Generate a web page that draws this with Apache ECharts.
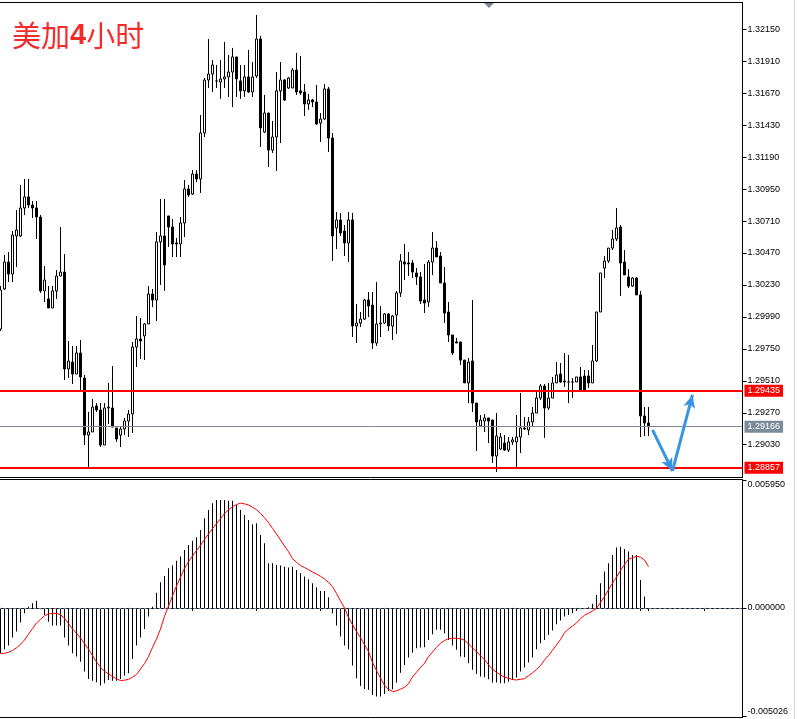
<!DOCTYPE html>
<html><head><meta charset="utf-8">
<script src="https://cdn.jsdelivr.net/npm/echarts@6/dist/echarts.min.js"></script>
<style>html,body{margin:0;padding:0;background:#fff;overflow:hidden}#c{width:797px;height:719px}</style>
</head><body><div id="c"></div>
<script>
// ---- DATA ----
const titleText = ['美加', '4', '小时'];
const opens = [1.29899,1.30200,1.30402,1.30312,1.30598,1.30598,1.30808,1.30891,1.30830,1.30808,
1.30740,1.30185,1.30125,1.30057,1.30185,1.30297,1.30327,1.29599,1.29651,1.29561,
1.29719,1.29531,1.29103,1.29126,1.29321,1.29291,1.29028,1.29306,1.29306,1.29156,
1.29103,1.29148,1.29208,1.29261,1.29764,1.29824,1.29847,1.29937,1.30162,1.30117,
1.30553,1.30598,1.30748,1.30665,1.30545,1.30538,1.30695,1.30951,1.30913,1.31063,
1.31026,1.31371,1.31769,1.31814,1.31762,1.31754,1.31777,1.31792,1.31829,1.31942,
1.31762,1.31687,1.31792,1.31679,1.31799,1.32077,1.31378,1.31521,1.31243,1.31341,
1.31687,1.31769,1.31709,1.31709,1.31844,1.31687,1.31679,1.31589,1.31619,1.31604,
1.31446,1.31476,1.31702,1.31333,1.30658,1.30718,1.30635,1.30545,1.30718,1.29922,
1.29944,1.29974,1.30117,1.30079,1.29794,1.29937,1.29944,1.30012,1.29922,1.30004,
1.30170,1.30402,1.30395,1.30395,1.30320,1.30290,1.30117,1.30102,1.30402,1.30507,
1.30447,1.30245,1.30027,1.29854,1.29802,1.29802,1.29666,1.29494,1.29659,1.29343,
1.29171,1.29208,1.29231,1.29216,1.28945,1.28998,1.29043,1.28990,1.29051,1.29051,
1.29088,1.29156,1.29141,1.29201,1.29268,1.29381,1.29471,1.29306,1.29381,1.29494,
1.29561,1.29509,1.29501,1.29501,1.29501,1.29539,1.29546,1.29546,1.29494,1.29659,
1.30027,1.30357,1.30410,1.30507,1.30575,1.30665,1.30402,1.30290,1.30222,1.30282,
1.30155,1.29246,1.29193];
const closes = [1.30192,1.30402,1.30312,1.30605,1.30643,1.30808,1.30891,1.30830,1.30808,1.30740,
1.30185,1.30267,1.30057,1.30185,1.30297,1.30327,1.29599,1.29659,1.29561,1.29719,
1.29539,1.29103,1.29126,1.29313,1.29291,1.29028,1.29306,1.29313,1.29163,1.29073,
1.29148,1.29208,1.29261,1.29764,1.29824,1.29809,1.29937,1.30162,1.30117,1.30553,
1.30598,1.30380,1.30665,1.30538,1.30538,1.30695,1.30951,1.30905,1.31063,1.31026,
1.31371,1.31769,1.31814,1.31882,1.31762,1.31777,1.31792,1.31829,1.31942,1.31777,
1.31687,1.31792,1.31679,1.31792,1.32077,1.31409,1.31521,1.31243,1.31341,1.31687,
1.31769,1.31619,1.31784,1.31844,1.31679,1.31672,1.31589,1.31619,1.31604,1.31439,
1.31476,1.31702,1.31333,1.30598,1.30718,1.30620,1.30545,1.30718,1.29922,1.29944,
1.29974,1.30117,1.30072,1.29794,1.29937,1.29944,1.30012,1.29922,1.29997,1.30170,
1.30410,1.30387,1.30387,1.30327,1.30290,1.30109,1.30094,1.30402,1.30507,1.30440,
1.30245,1.30019,1.29854,1.29719,1.29794,1.29666,1.29494,1.29651,1.29343,1.29201,
1.29216,1.29231,1.29208,1.28946,1.29096,1.29088,1.28990,1.29051,1.29066,1.29088,
1.29156,1.29148,1.29201,1.29268,1.29381,1.29471,1.29306,1.29381,1.29494,1.29554,
1.29501,1.29501,1.29501,1.29501,1.29539,1.29441,1.29441,1.29494,1.29659,1.30027,
1.30320,1.30410,1.30507,1.30575,1.30658,1.30395,1.30305,1.30222,1.30282,1.30155,
1.29246,1.29193,1.29166];
const lows = [1.29884,1.30192,1.30252,1.30252,1.30365,1.30590,1.30755,1.30808,1.30733,1.30575,
1.30170,1.30102,1.30057,1.30057,1.30125,1.30297,1.29516,1.29531,1.29486,1.29561,
1.29441,1.29028,1.28863,1.29126,1.29276,1.29013,1.29028,1.29186,1.29163,1.29051,
1.29013,1.29103,1.29088,1.29118,1.29614,1.29674,1.29666,1.29937,1.30064,1.29959,
1.30230,1.30185,1.30515,1.30440,1.30440,1.30440,1.30590,1.30891,1.30905,1.31003,
1.30921,1.31341,1.31709,1.31679,1.31709,1.31627,1.31709,1.31642,1.31566,1.31642,
1.31627,1.31642,1.31672,1.31642,1.31784,1.31266,1.31371,1.31116,1.31221,1.31086,
1.31296,1.31611,1.31702,1.31709,1.31657,1.31657,1.31499,1.31544,1.31566,1.31431,
1.31304,1.31469,1.31228,1.30410,1.30500,1.30598,1.30447,1.30402,1.29839,1.29794,
1.29914,1.29967,1.29989,1.29749,1.29772,1.29839,1.29937,1.29884,1.29817,1.29862,
1.30140,1.30267,1.30297,1.30282,1.30230,1.30087,1.30019,1.30064,1.30305,1.30440,
1.30245,1.29944,1.29802,1.29704,1.29794,1.29629,1.29494,1.29343,1.29276,1.28983,
1.29163,1.29126,1.29043,1.28893,1.28825,1.28990,1.28983,1.28975,1.29028,1.28848,
1.28968,1.29141,1.29103,1.29163,1.29268,1.29366,1.29081,1.29291,1.29381,1.29494,
1.29494,1.29464,1.29343,1.29381,1.29501,1.29441,1.29441,1.29456,1.29494,1.29651,
1.30027,1.30282,1.30395,1.30492,1.30560,1.30147,1.30305,1.30207,1.30215,1.30155,
1.29088,1.29096,1.29096];
const highs = [1.30222,1.30455,1.30477,1.30635,1.30793,1.30981,1.31026,1.31026,1.30860,1.30860,
1.30755,1.30372,1.30222,1.30222,1.30342,1.30665,1.30462,1.29809,1.29772,1.29772,
1.29817,1.29554,1.29276,1.29374,1.29343,1.29343,1.29343,1.29494,1.29621,1.29156,
1.29163,1.29231,1.29291,1.29802,1.29997,1.29982,1.29944,1.30222,1.30200,1.30628,
1.30876,1.30876,1.30748,1.30725,1.30583,1.30740,1.31018,1.30981,1.31093,1.31093,
1.31506,1.31784,1.32077,1.31919,1.31882,1.31919,1.32055,1.31957,1.32010,1.31942,
1.31882,1.31882,1.31995,1.31904,1.32257,1.32100,1.31657,1.31521,1.31461,1.31829,
1.31904,1.31777,1.31792,1.31859,1.31972,1.31949,1.31739,1.31664,1.31627,1.31732,
1.31521,1.31739,1.31717,1.31371,1.30778,1.30770,1.30680,1.30778,1.30770,1.30087,
1.30027,1.30125,1.30177,1.30177,1.30252,1.30072,1.30019,1.30019,1.30004,1.30185,
1.30462,1.30538,1.30477,1.30417,1.30357,1.30327,1.30387,1.30417,1.30628,1.30560,
1.30477,1.30365,1.30102,1.29854,1.29832,1.29802,1.29666,1.29681,1.30117,1.29343,
1.29253,1.29261,1.29231,1.29216,1.29268,1.29118,1.29103,1.29088,1.29088,1.29253,
1.29419,1.29238,1.29238,1.29313,1.29426,1.29486,1.29486,1.29494,1.29539,1.29651,
1.29644,1.29719,1.29704,1.29531,1.29539,1.29614,1.29591,1.29591,1.29779,1.30027,
1.30320,1.30447,1.30507,1.30643,1.30808,1.30680,1.30492,1.30350,1.30290,1.30290,
1.30185,1.29313,1.29313];
const macdHist = [-0.00211,-0.00192,-0.00175,-0.00138,-0.00110,-0.00068,-0.00025,0.00006,0.00022,0.00033,
-0.00006,-0.00033,-0.00064,-0.00082,-0.00082,-0.00082,-0.00138,-0.00175,-0.00211,-0.00226,
-0.00250,-0.00296,-0.00330,-0.00339,-0.00346,-0.00361,-0.00350,-0.00335,-0.00339,-0.00339,
-0.00330,-0.00315,-0.00304,-0.00237,-0.00175,-0.00138,-0.00098,-0.00040,0.00006,0.00071,
0.00119,0.00149,0.00184,0.00197,0.00219,0.00239,0.00270,0.00293,0.00313,0.00329,
0.00363,0.00417,0.00456,0.00487,0.00502,0.00502,0.00502,0.00498,0.00498,0.00479,
0.00456,0.00432,0.00409,0.00389,0.00394,0.00339,0.00301,0.00208,0.00208,0.00200,
0.00197,0.00192,0.00188,0.00192,0.00177,0.00161,0.00146,0.00133,0.00115,0.00096,
0.00079,0.00079,0.00050,-0.00025,-0.00082,-0.00133,-0.00175,-0.00192,-0.00268,-0.00327,
-0.00363,-0.00377,-0.00381,-0.00405,-0.00412,-0.00412,-0.00400,-0.00386,-0.00378,-0.00347,
-0.00301,-0.00265,-0.00231,-0.00208,-0.00188,-0.00184,-0.00183,-0.00149,-0.00122,-0.00102,
-0.00102,-0.00118,-0.00149,-0.00175,-0.00195,-0.00226,-0.00229,-0.00257,-0.00288,-0.00307,
-0.00319,-0.00322,-0.00332,-0.00347,-0.00347,-0.00350,-0.00350,-0.00343,-0.00335,-0.00324,
-0.00296,-0.00277,-0.00254,-0.00231,-0.00192,-0.00164,-0.00149,-0.00126,-0.00105,-0.00076,
-0.00059,-0.00040,-0.00033,-0.00025,-0.00012,-0.00006,-0.00003,0.00003,0.00019,0.00060,
0.00115,0.00169,0.00208,0.00246,0.00281,0.00285,0.00274,0.00262,0.00246,0.00246,
0.00130,0.00053,-0.00014];
const macdSignal = [-0.00212,-0.00211,-0.00206,-0.00198,-0.00186,-0.00169,-0.00149,-0.00122,-0.00096,-0.00070,
-0.00053,-0.00036,-0.00028,-0.00025,-0.00026,-0.00031,-0.00048,-0.00073,-0.00098,-0.00118,
-0.00140,-0.00166,-0.00192,-0.00222,-0.00251,-0.00276,-0.00295,-0.00307,-0.00319,-0.00329,
-0.00338,-0.00336,-0.00332,-0.00322,-0.00310,-0.00284,-0.00259,-0.00226,-0.00184,-0.00144,
-0.00098,-0.00039,0.00009,0.00056,0.00102,0.00143,0.00184,0.00215,0.00242,0.00267,
0.00291,0.00318,0.00344,0.00369,0.00392,0.00415,0.00439,0.00456,0.00471,0.00481,
0.00487,0.00484,0.00479,0.00468,0.00457,0.00440,0.00420,0.00397,0.00370,0.00344,
0.00316,0.00288,0.00262,0.00229,0.00212,0.00197,0.00188,0.00178,0.00167,0.00158,
0.00147,0.00135,0.00119,0.00099,0.00067,0.00033,0.00000,-0.00045,-0.00078,-0.00110,
-0.00138,-0.00171,-0.00202,-0.00254,-0.00291,-0.00326,-0.00360,-0.00378,-0.00389,-0.00386,
-0.00378,-0.00369,-0.00353,-0.00321,-0.00299,-0.00277,-0.00257,-0.00226,-0.00205,-0.00183,
-0.00164,-0.00152,-0.00143,-0.00141,-0.00141,-0.00144,-0.00150,-0.00167,-0.00186,-0.00203,
-0.00223,-0.00240,-0.00264,-0.00285,-0.00299,-0.00312,-0.00322,-0.00327,-0.00333,-0.00335,
-0.00332,-0.00329,-0.00315,-0.00302,-0.00287,-0.00268,-0.00242,-0.00222,-0.00197,-0.00172,
-0.00147,-0.00115,-0.00098,-0.00084,-0.00070,-0.00050,-0.00034,-0.00025,-0.00014,-0.00002,
0.00025,0.00053,0.00084,0.00115,0.00143,0.00174,0.00202,0.00226,0.00234,0.00240,
0.00236,0.00223,0.00192];
const priceTicks = [1.32150,1.31910,1.31670,1.31430,1.31190,1.30950,1.30710,1.30470,1.30230,1.29990,1.29750,1.29510,1.29270,1.29030];
const macdTicks = [-0.005026, 0, 0.005950];
const resistanceLevel = 1.29435;
const supportLevel = 1.28857;
const currentPrice = 1.29166;
// arrow annotation: [slot index, price]
const arrowPoints = [[163, 1.29141], [168, 1.28833], [173, 1.29404]];
const slotCount = 186;   // bars plus the empty shift area on the right
const categories = Array.from({length: slotCount}, (_, i) => String(i));

// ---- BUILD ----
const candleData = opens.map((o, i) => [o, closes[i], lows[i], highs[i]]);
const FONT = 'Liberation Sans, Arial, sans-serif';
const chart = echarts.init(document.getElementById('c'), null, {renderer: 'canvas'});

function tag(value, bg) {
  return {
    show: true, position: 'end', distance: 2,
    formatter: value.toFixed(5),
    backgroundColor: bg, color: '#fff',
    padding: [1, 3, 1, 3], fontSize: 9, lineHeight: 10, fontFamily: FONT
  };
}
const arrowStyle = {color: '#3a94e4', width: 3, type: 'solid'};

const option = {
  animation: false,
  backgroundColor: '#ffffff',
  grid: [
    {left: -1.5, right: 54.5, top: 2.5, height: 475, show: true, borderColor: '#000', borderWidth: 1, containLabel: false, outerBoundsMode: 'none'},
    {left: -1.5, right: 54.5, top: 479.5, height: 238, show: true, borderColor: '#000', borderWidth: 1, containLabel: false, outerBoundsMode: 'none'}
  ],
  xAxis: [
    {type: 'category', gridIndex: 0, data: categories, boundaryGap: true, show: false},
    {type: 'category', gridIndex: 1, data: categories, boundaryGap: true,
     axisLine: {show: true, lineStyle: {color: '#000'}},
     axisTick: {show: true, interval: 15, alignWithLabel: true, length: 3, lineStyle: {color: '#000'}},
     axisLabel: {show: false}, splitLine: {show: false}}
  ],
  yAxis: [
    {type: 'value', gridIndex: 0, position: 'right', min: 1.28784, max: 1.32351,
     axisLine: {show: true, lineStyle: {color: '#000'}},
     axisTick: {show: true, length: 4, customValues: priceTicks, lineStyle: {color: '#000'}},
     axisLabel: {show: true, customValues: priceTicks, margin: 5, color: '#000', fontFamily: FONT, fontSize: 9,
                 hideOverlap: false, formatter: v => v.toFixed(5)},
     splitLine: {show: false}},
    {type: 'value', gridIndex: 1, position: 'right', min: -0.0050958, max: 0.0059733,
     axisLine: {show: true, lineStyle: {color: '#000'}},
     axisTick: {show: true, length: 4, customValues: macdTicks, lineStyle: {color: '#000'}},
     axisLabel: {show: true, customValues: macdTicks, margin: 5, color: '#000', fontFamily: FONT, fontSize: 9,
                 verticalAlignMinLabel: 'bottom', verticalAlignMaxLabel: 'top',
                 formatter: v => v.toFixed(6)},
     splitLine: {show: false}}
  ],
  series: [
    {type: 'candlestick', xAxisIndex: 0, yAxisIndex: 0, data: candleData, barWidth: 3, z: 3,
     itemStyle: {color: '#fff', color0: '#000', borderColor: '#000', borderColor0: '#000', borderColorDoji: '#000', borderWidth: 1}},
    {type: 'line', name: 'levels', xAxisIndex: 0, yAxisIndex: 0, data: [], z: 2,
     markLine: {
       silent: true, symbol: 'none', animation: false, precision: 5,
       data: [
         {yAxis: resistanceLevel, lineStyle: {color: '#ff0000', width: 2, type: 'solid'}, label: tag(resistanceLevel, '#ff0000')},
         {yAxis: supportLevel, lineStyle: {color: '#ff0000', width: 2, type: 'solid'}, label: tag(supportLevel, '#ff0000')},
         {yAxis: currentPrice, lineStyle: {color: '#7d8b99', width: 1, type: 'solid'}, label: tag(currentPrice, '#7d8b99')}
       ]
     }},
    {type: 'line', name: 'arrows', xAxisIndex: 0, yAxisIndex: 0, data: [], z: 6,
     markLine: {
       silent: true, animation: false, precision: 5, label: {show: false},
       data: [
         [{coord: arrowPoints[0], symbol: 'none', lineStyle: arrowStyle},
          {coord: arrowPoints[1], symbol: 'arrow', symbolSize: [9, 13]}],
         [{coord: arrowPoints[1], symbol: 'none', lineStyle: arrowStyle},
          {coord: arrowPoints[2], symbol: 'arrow', symbolSize: [9, 13]}]
       ]
     }},
    {type: 'bar', xAxisIndex: 1, yAxisIndex: 1, data: macdHist, barWidth: 1, itemStyle: {color: '#000'},
     markLine: {silent: true, symbol: 'none', animation: false, precision: 6,
       data: [{yAxis: 0}], label: {show: false},
       lineStyle: {color: '#6d8199', width: 1, type: [3, 2]}}},
    {type: 'line', xAxisIndex: 1, yAxisIndex: 1, data: macdSignal, symbol: 'none', showSymbol: false,
     lineStyle: {color: '#ff0000', width: 1}, z: 5}
  ],
  graphic: [
    {type: 'text', left: 12, top: 21, z: 10,
     style: {text: '{a|' + titleText[0] + '}{b|' + titleText[1] + '}{a|' + titleText[2] + '}',
       rich: {
         a: {fontSize: 29, fontFamily: 'Noto Sans CJK SC', fill: '#f52a2a'},
         b: {fontSize: 29, fontWeight: 'bold', fontFamily: 'Liberation Sans', fill: '#f52a2a'}
       }}},
    {type: 'polygon', z: 10, shape: {points: [[484, 3], [494, 3], [489, 8]]}, style: {fill: '#7a8896'}},
    {type: 'rect', z: 10, shape: {x: 794, y: 0, width: 1, height: 719}, style: {fill: '#d6d6d6'}}
  ]
};
chart.setOption(option);
</script>
</body></html>
